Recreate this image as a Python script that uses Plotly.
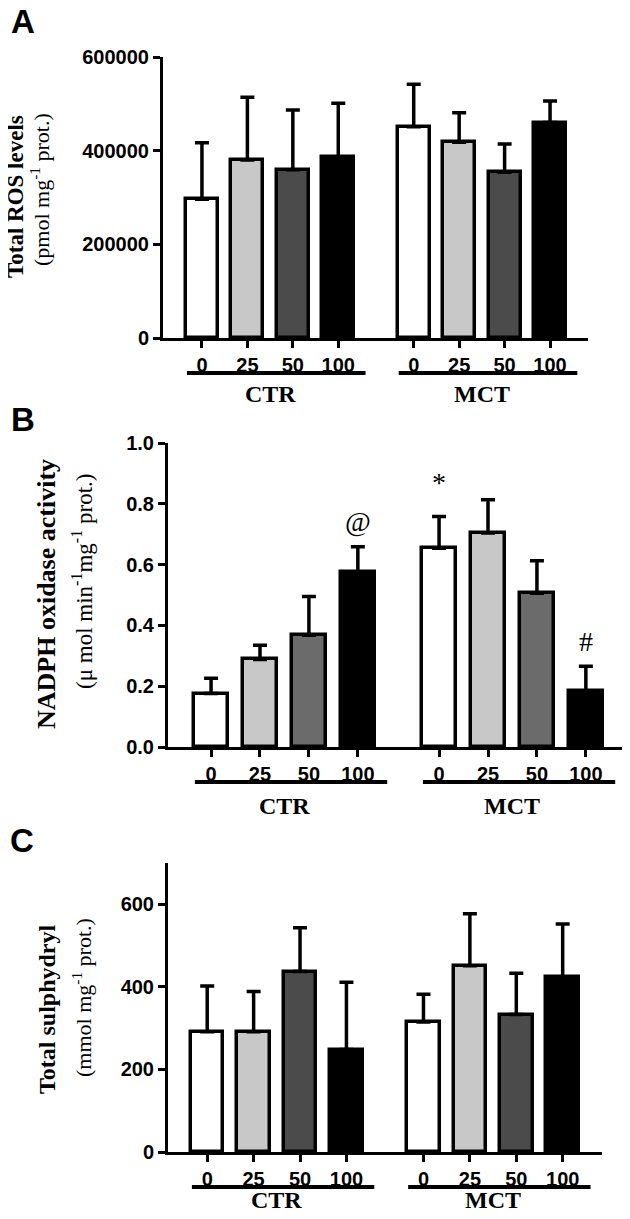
import plotly.graph_objects as go

# ---------------- data ----------------
doses = ["0", "25", "50", "100"]
groups = ["CTR", "MCT"]

ros_mean = [296000, 380000, 359000, 386000, 451000, 418000, 354000, 460000]
ros_sem = [121000, 134000, 128000, 115000, 91000, 63000, 60000, 46000]

nox_mean = [0.176, 0.288, 0.368, 0.575, 0.654, 0.704, 0.506, 0.185]
nox_sem = [0.050, 0.047, 0.127, 0.084, 0.104, 0.109, 0.107, 0.081]
nox_sig = ["", "", "", "@", "*", "", "", "#"]

sh_mean = [291, 291, 437, 248, 315, 451, 333, 423]
sh_sem = [111, 98, 106, 163, 67, 126, 100, 129]

# ---------------- layout helpers ----------------
# the page body has an 8px margin, so the figure is sized to fit the window
OFF = 8
W, H = 630 - OFF, 1219 - OFF
def fx(px):
    return (px - OFF) / W
def fy(px):
    return 1 - (px - OFF) / H

GAP = 1.66
positions = [0, 1, 2, 3] + [GAP + 3 + i for i in range(4)]
ticktext = doses * 2

WHITE, LIGHT, DARK, BLACK = "#ffffff", "#c8c8c8", "#4b4b4b", "#000000"
colors_ac = [WHITE, LIGHT, DARK, BLACK] * 2
colors_b = [WHITE, LIGHT, "#6b6b6b", BLACK] * 2

SERIF = "Liberation Serif, Times New Roman, serif"
SANS = "Liberation Sans, Arial, sans-serif"

panels = [
    dict(mean=ros_mean, sem=ros_sem, colors=colors_ac, letter="A",
         xdom=(163, 588), ydom=(57, 338), yrange=[0, 600000], dtick=200000, fmt="d",
         xrange=[-0.857, positions[-1] + 0.835],
         t1="<b>Total ROS levels</b>", t2="(pmol mg<sup>-1</sup> prot.)",
         t1x=16, t2x=40, t1y=197, t2y=190, t1s=23, t2s=22,
         letter_xy=(23, 22), glab=56),
    dict(mean=nox_mean, sem=nox_sem, colors=colors_b, letter="B",
         xdom=(168, 625), ydom=(443, 747), yrange=[0, 1.0], dtick=0.2, fmt=".1f",
         xrange=[-0.88, positions[-1] + 0.8],
         t1="<b>NADPH oxidase activity</b>",
         t2="(\u03bc mol min<sup>-1</sup>mg<sup>-1</sup> prot.)",
         t1x=47, t2x=82, t1y=594, t2y=582, t1s=26, t2s=23,
         letter_xy=(23, 420), glab=59),
    dict(mean=sh_mean, sem=sh_sem, colors=colors_ac, letter="C",
         xdom=(168, 602), ydom=(863, 1152), yrange=[0, 700], dtick=200, fmt="d",
         xrange=[-0.845, positions[-1] + 0.847],
         t1="<b>Total sulphydryl</b>", t2="(mmol mg<sup>-1</sup> prot.)",
         t1x=47, t2x=82, t1y=1009, t2y=998, t1s=24, t2s=22,
         letter_xy=(22, 840), glab=48),
]

fig = go.Figure()
annotations = []
shapes = []

for i, p in enumerate(panels):
    n = i + 1
    xa = "x" if n == 1 else f"x{n}"
    ya = "y" if n == 1 else f"y{n}"
    fig.add_trace(go.Bar(
        x=positions, y=p["mean"], width=0.7,
        marker=dict(color=p["colors"], line=dict(color="black", width=3.5)),
        error_y=dict(type="data", symmetric=False, array=p["sem"],
                     arrayminus=[0] * len(p["sem"]), color="black",
                     thickness=3.5, width=7),
        xaxis=xa, yaxis=ya, showlegend=False, hoverinfo="skip",
    ))
    axis_common = dict(showline=True, linecolor="black", linewidth=3,
                       ticks="outside", ticklen=7, tickwidth=3, tickcolor="black",
                       showgrid=False, zeroline=False, automargin=False)
    fig.update_layout(**{
        ("xaxis" if n == 1 else f"xaxis{n}"): dict(
            domain=[fx(p["xdom"][0]), fx(p["xdom"][1])],
            range=p["xrange"], tickmode="array", tickvals=positions,
            ticktext=ticktext, anchor=ya,
            tickfont=dict(family=SANS, size=20, color="black", weight="bold"),
            **axis_common),
        ("yaxis" if n == 1 else f"yaxis{n}"): dict(
            domain=[fy(p["ydom"][1]), fy(p["ydom"][0])],
            range=p["yrange"], dtick=p["dtick"], tick0=0, tickformat=p["fmt"],
            anchor=xa,
            tickfont=dict(family=SANS, size=20, color="black", weight="bold"),
            **axis_common),
    })
    axis_px = p["ydom"][1]
    # group underlines and labels
    for g in range(2):
        gp = positions[4 * g: 4 * g + 4]
        shapes.append(dict(type="line", xref=xa, yref="paper",
                           x0=gp[0] - 0.33, x1=gp[-1] + 0.6,
                           y0=fy(axis_px + 35), y1=fy(axis_px + 35),
                           line=dict(color="black", width=4)))
        annotations.append(dict(xref=xa, yref="paper",
                                x=(gp[0] + gp[-1]) / 2, y=fy(axis_px + p["glab"]),
                                text=f"<b>{groups[g]}</b>", showarrow=False,
                                xanchor="center", yanchor="middle",
                                font=dict(family=SERIF, size=24, color="black")))
    # axis titles
    annotations.append(dict(xref="paper", yref="paper", x=fx(p["t1x"]), y=fy(p["t1y"]),
                            text=p["t1"], textangle=-90, showarrow=False,
                            xanchor="center", yanchor="middle", borderpad=0,
                            font=dict(family=SERIF, size=p["t1s"], color="black")))
    annotations.append(dict(xref="paper", yref="paper", x=fx(p["t2x"]), y=fy(p["t2y"]),
                            text=p["t2"], textangle=-90, showarrow=False,
                            xanchor="center", yanchor="middle", borderpad=0,
                            font=dict(family=SERIF, size=p["t2s"], color="black")))
    # panel letter
    annotations.append(dict(xref="paper", yref="paper",
                            x=fx(p["letter_xy"][0]), y=fy(p["letter_xy"][1]),
                            text=f"<b>{p['letter']}</b>", showarrow=False,
                            xanchor="center", yanchor="middle", borderpad=0,
                            font=dict(family=SANS, size=33, color="black")))

# significance marks for panel B
for xpos, m, s, lab in zip(positions, nox_mean, nox_sem, nox_sig):
    if lab:
        annotations.append(dict(xref="x2", yref="y2", x=xpos, y=m + s, text=lab,
                                showarrow=False, xanchor="center", yanchor="middle",
                                yshift=34 if lab == "*" else 25,
                                font=dict(family=SERIF, size=28, color="black")))

fig.update_layout(width=W, height=H,
                  margin=dict(l=0, r=0, t=0, b=0, pad=0, autoexpand=False),
                  paper_bgcolor="white", plot_bgcolor="white",
                  bargap=0, annotations=annotations, shapes=shapes,
                  hovermode=False)

fig.write_html("out.html")
